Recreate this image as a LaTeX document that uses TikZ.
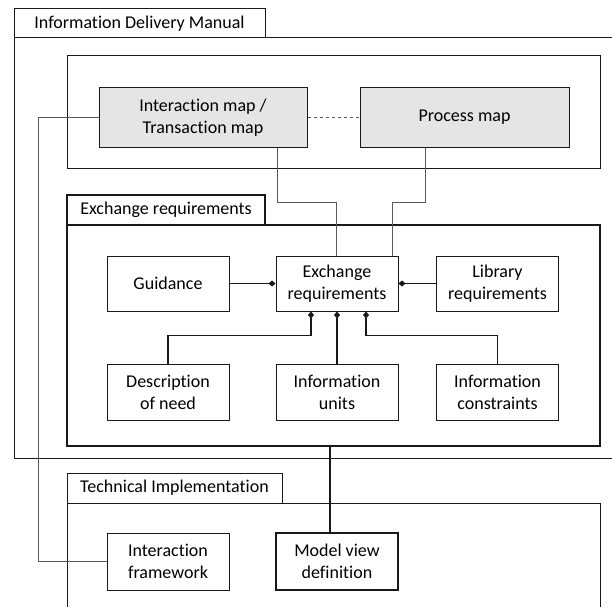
\documentclass[tikz,border=0pt]{standalone}
\usepackage{fontspec}
\setmainfont{Carlito}[Ligatures=NoCommon]
\usetikzlibrary{arrows.meta}

\tikzset{
    box/.style={draw=black!90, line width=1pt, minimum width=122pt, minimum height=55pt,
        align=center, inner sep=1pt, font=\fontsize{18}{22}\selectfont},
    mapbox/.style={box, fill=black!10, minimum width=208pt, minimum height=59pt},
    tab/.style={draw=black!90, line width=1pt, minimum height=29pt, inner sep=0pt,
        font=\fontsize{18}{22}\selectfont},
    frame/.style={draw=black!90, line width=1pt, minimum width=533pt, inner sep=0pt},
    conn/.style={draw=black!65, line width=0.9pt},
    link/.style={draw=black!90, line width=1.2pt, {Diamond[length=7pt,width=6pt]}-},
    heavy/.style={line width=2.4pt}
}

\begin{document}
\begin{tikzpicture}[x=1pt, y=-1pt]
    \useasboundingbox (0,0) rectangle (612,607);
    % Outer frames and tabs
    \draw[draw=black!90, line width=1pt] (612,38) -- (14,38) -- (14,458) -- (612,458);
    \node[tab, minimum width=251pt] (idmtab) at (139.5,23.5) {Information Delivery Manual};
    \node[frame, minimum height=112pt] (procframe) at (333.5,112) {};
    \node[tab, heavy, minimum width=198pt, minimum height=30pt] (ertab) at (166,210) {Exchange requirements};
    \node[frame, heavy, minimum height=221pt] (erframe) at (333.5,335.5) {};
    \draw[draw=black!90, line width=1pt] (67,607) -- (67,503) -- (600,503) -- (600,607);
    \node[tab, minimum width=215pt, minimum height=30pt] (techtab) at (174.5,488) {Technical Implementation};
    % Map boxes
    \node[mapbox] (imap) at (203,117.5) {Interaction map /\\Transaction map};
    \node[mapbox, minimum width=209pt] (pmap) at (464.5,117.5) {Process map};
    % Exchange requirement boxes
    \node[box] (guid) at (168,283.5) {Guidance};
    \node[box] (exreq) at (337,283.5) {Exchange\\requirements};
    \node[box] (lib) at (497.5,283.5) {Library\\requirements};
    \node[box, minimum height=56pt] (need) at (168,392) {Description\\of need};
    \node[box, minimum height=56pt] (units) at (337,392) {Information\\units};
    \node[box, minimum height=56pt] (cons) at (497.5,392) {Information\\constraints};
    % Implementation boxes
    \node[box, minimum height=57pt] (iframe) at (168,561.5) {Interaction\\framework};
    \node[box, heavy, minimum height=57pt] (mvd) at (337,561.5) {Model view\\definition};
    % Connectors
    \draw[conn, dashed] (imap.east) -- (pmap.west);
    \draw[conn] (imap.west) -- ++(-60,0) |- (iframe.west);
    \draw[conn] ([xshift=74pt]imap.south) -- ++(0,54.5) -| ([xshift=-1pt]exreq.north);
    \draw[conn] ([xshift=-39pt]pmap.south) -- ++(0,54.5) -| ([xshift=55pt]exreq.north);
    \draw[link] (exreq.west) -- (guid.east);
    \draw[link] (exreq.east) -- (lib.west);
    \draw[link] ([xshift=-26pt]exreq.south) -- ++(0,24) -| (need.north);
    \draw[link] (exreq.south) -- (units.north);
    \draw[link] ([xshift=29pt]exreq.south) -- ++(0,24) -| (cons.north);
    \draw[heavy, draw=black!90] ([xshift=-3.5pt]erframe.south) -- ([xshift=-3.5pt]erframe.south |- mvd.north);
\end{tikzpicture}
\end{document}
